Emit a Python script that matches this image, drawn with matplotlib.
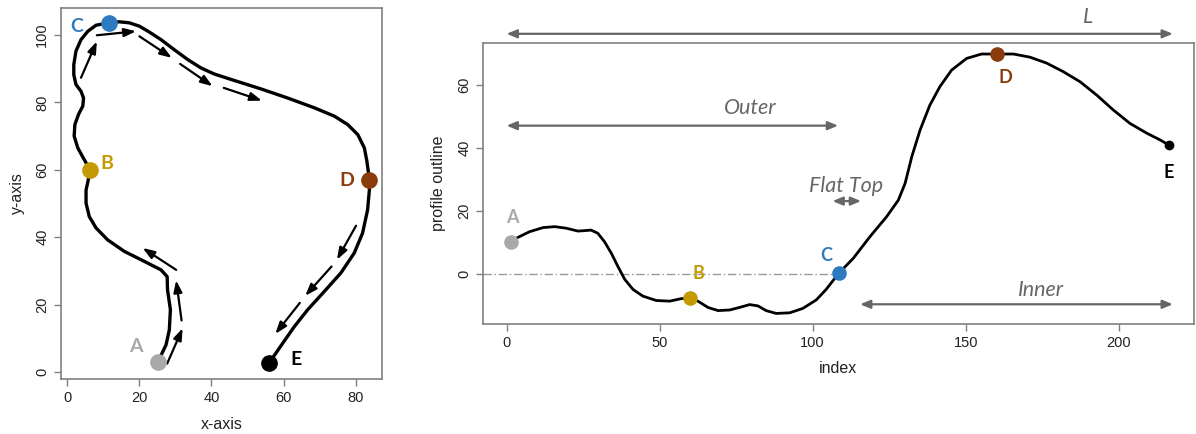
import matplotlib.pyplot as plt

# left panel: outline path in x/y (A -> B -> C -> D -> E)
path_x = [25.1, 27.4, 28.3, 28.6, 27.8, 27.7, 26.0, 21.4, 15.8, 11.2, 8.0, 6.1, 5.2, 5.2,
          6.4, 4.7, 2.9, 1.9, 2.1, 3.1, 4.3, 4.5, 3.8, 2.4, 1.8, 1.8, 2.4, 3.8, 5.7, 8.0,
          11.7, 14.4, 17.2, 20.0, 22.7, 26.0, 29.7, 33.4, 37.1, 40.8, 46.3, 53.7, 61.1,
          68.5, 74.1, 77.8, 80.6, 82.4, 83.1, 83.8, 83.8, 83.3, 81.9, 79.6, 75.9, 71.3,
          66.7, 63.0, 59.8, 56.0]
path_y = [2.9, 8.1, 12.5, 18.5, 24.4, 28.3, 30.3, 32.8, 35.8, 39.2, 42.7, 46.1, 50.1, 54.0,
          59.8, 63.0, 66.5, 70.0, 73.4, 76.4, 78.9, 81.3, 83.3, 85.3, 88.2, 91.2, 95.2,
          98.6, 101.1, 102.9, 103.6, 103.9, 103.6, 102.6, 100.9, 98.6, 95.6, 92.7, 90.2,
          88.4, 86.5, 84.0, 81.3, 78.4, 75.9, 73.4, 70.4, 66.5, 62.6, 57.1, 54.0, 48.1,
          41.2, 35.3, 29.4, 23.9, 18.5, 13.5, 8.6, 2.7]

# direction arrows along the path (tail -> head)
dir_tail = [(27.7, 2.5), (31.7, 15.3), (30.2, 30.3), (3.8, 87.3), (8.2, 99.9), (20.0, 99.6),
            (31.3, 91.4), (43.4, 84.3), (80.1, 43.4), (73.3, 31.3), (64.5, 20.5)]
dir_head = [(32.0, 13.0), (30.2, 27.2), (20.9, 36.8), (8.2, 98.1), (19.1, 101.1), (29.0, 93.2),
            (40.3, 84.8), (54.0, 80.5), (74.8, 33.3), (66.0, 22.6), (57.7, 11.3)]

# right panel: profile outline vs index
prof_idx = [1.5, 3.7, 7.5, 11.9, 15.7, 19.5, 23.3, 24.9, 27.6, 29.8, 32.0, 34.2, 36.4, 38.6,
            41.3, 44.5, 48.9, 53.3, 57.1, 59.8, 62.5, 65.8, 69.1, 72.9, 76.1, 79.4, 82.1,
            84.8, 88.1, 92.5, 96.8, 101.2, 104.4, 108.5, 113.3, 118.7, 124.2, 128.0, 130.2,
            132.4, 135.1, 138.3, 141.6, 145.4, 150.3, 155.2, 160.1, 165.6, 171.0, 176.5,
            181.9, 187.4, 192.8, 198.2, 203.7, 209.2, 213.5, 216.5]
prof_val = [10.2, 11.6, 13.4, 14.7, 15.0, 14.5, 13.6, 13.7, 13.9, 12.9, 10.2, 6.6, 2.3, -1.7,
            -4.9, -7.0, -8.4, -8.6, -7.8, -7.7, -8.6, -10.6, -11.6, -11.4, -10.6, -9.7, -10.1,
            -11.6, -12.5, -12.3, -10.9, -8.2, -4.9, 0.2, 5.0, 11.8, 18.2, 23.4, 28.7, 37.2,
            45.6, 53.5, 59.4, 64.6, 68.3, 69.7, 69.7, 69.7, 68.7, 66.8, 64.1, 60.9, 56.7,
            52.0, 47.7, 44.6, 42.5, 40.8]

names = ["A", "B", "C", "D", "E"]
colors = ["#a9a9a9", "#c39a06", "#2e7ac0", "#8a3c0c", "#000000"]
left_pts = [(25.1, 2.9), (6.4, 59.8), (11.7, 103.6), (83.8, 57.1), (56.0, 2.7)]
left_lbl = [(18.9, 7.5), (11.0, 61.9), (2.7, 102.6), (77.6, 56.9), (63.5, 3.6)]
right_pts = [(1.5, 10.2), (59.8, -7.7), (108.5, 0.2), (160.1, 69.7), (216.5, 40.8)]
right_lbl = [(1.8, 17.8), (62.8, 0.3), (104.5, 5.7), (163.0, 62.4), (216.5, 32.0)]

# span arrows on the right panel: (label, x0, x1, y, label x, label y)
spans = [("L", 0.0, 217.7, 76.1, 190.0, 81.4),
         ("Outer", 0.0, 108.3, 47.0, 79.5, 52.6),
         ("Flat Top", 106.5, 115.8, 23.1, 111.0, 27.9),
         ("Inner", 115.5, 217.7, -9.6, 174.6, -5.1)]

plt.rcParams["font.family"] = ["Liberation Sans", "DejaVu Sans"]
frame = "#808080"
ink = "#222222"
label_font = ["Lato", "DejaVu Sans"]

fig = plt.figure(figsize=(11.96, 4.34), dpi=100)
ax1 = fig.add_axes([0.051, 0.1267, 0.2684, 0.8549])
ax2 = fig.add_axes([0.4038, 0.2535, 0.5945, 0.6475])

for ax in (ax1, ax2):
    for s in ax.spines.values():
        s.set_color(frame)
        s.set_linewidth(1.2)
    ax.tick_params(labelcolor=ink, color=frame, labelsize=10.5, length=5, width=1, direction="out")

# left panel
ax1.plot(path_x, path_y, color="black", lw=2.4, solid_joinstyle="round", zorder=2)
for t, h in zip(dir_tail, dir_head):
    ax1.annotate("", xy=h, xytext=t,
                 arrowprops=dict(arrowstyle="-|>,head_length=0.7,head_width=0.25",
                                 color="black", lw=1.6, shrinkA=0, shrinkB=0))
for n, c, p, l in zip(names, colors, left_pts, left_lbl):
    ax1.plot(*p, "o", color=c, ms=11, zorder=3)
    ax1.text(*l, n, color=c, fontsize=14, fontweight="bold", family=label_font,
             ha="center", va="center")
ax1.set_xlim(-1.75, 87.3)
ax1.set_ylim(-2.08, 108.0)
ax1.set_xticks([0, 20, 40, 60, 80])
ax1.set_yticks([0, 20, 40, 60, 80, 100])
for lab in ax1.get_yticklabels():
    lab.set_rotation(90)
    lab.set_va("center")
ax1.set_xlabel("x-axis", fontsize=11.5, color=ink, labelpad=9)
ax1.set_ylabel("y-axis", fontsize=11.5, color=ink, labelpad=7)

# right panel
xl = (-7.74, 224.6)
ax2.hlines(0, xl[0], right_pts[2][0], color="#999999", lw=1, linestyles=(0, (6, 2, 1, 2)), zorder=1)
ax2.plot(prof_idx, prof_val, color="black", lw=2, solid_joinstyle="round", zorder=2)
for n, c, p, l in zip(names, colors, right_pts, right_lbl):
    ax2.plot(*p, "o", color=c, ms=6 if n == "E" else 9.5, zorder=3)
    ax2.text(*l, n, color=c, fontsize=13, fontweight="bold", family=label_font,
             ha="center", va="center")
for lab, x0, x1, y, lx, ly in spans:
    ax2.annotate("", xy=(x1, y), xytext=(x0, y), annotation_clip=False,
                 arrowprops=dict(arrowstyle="<|-|>,head_length=0.6,head_width=0.25",
                                 color="#666666", lw=1.6, shrinkA=0, shrinkB=0))
    ax2.text(lx, ly, lab, color="#666666", fontsize=15.5, style="italic", family=label_font,
             ha="center", va="center", clip_on=False)
ax2.set_xlim(*xl)
ax2.set_ylim(-15.84, 73.2)
ax2.set_xticks([0, 50, 100, 150, 200])
ax2.set_yticks([0, 20, 40, 60])
for lab in ax2.get_yticklabels():
    lab.set_rotation(90)
    lab.set_va("center")
ax2.set_xlabel("index", fontsize=11.5, color=ink, labelpad=8)
ax2.set_ylabel("profile outline", fontsize=11.5, color=ink, labelpad=8)

fig.savefig("out.png", dpi=100)
